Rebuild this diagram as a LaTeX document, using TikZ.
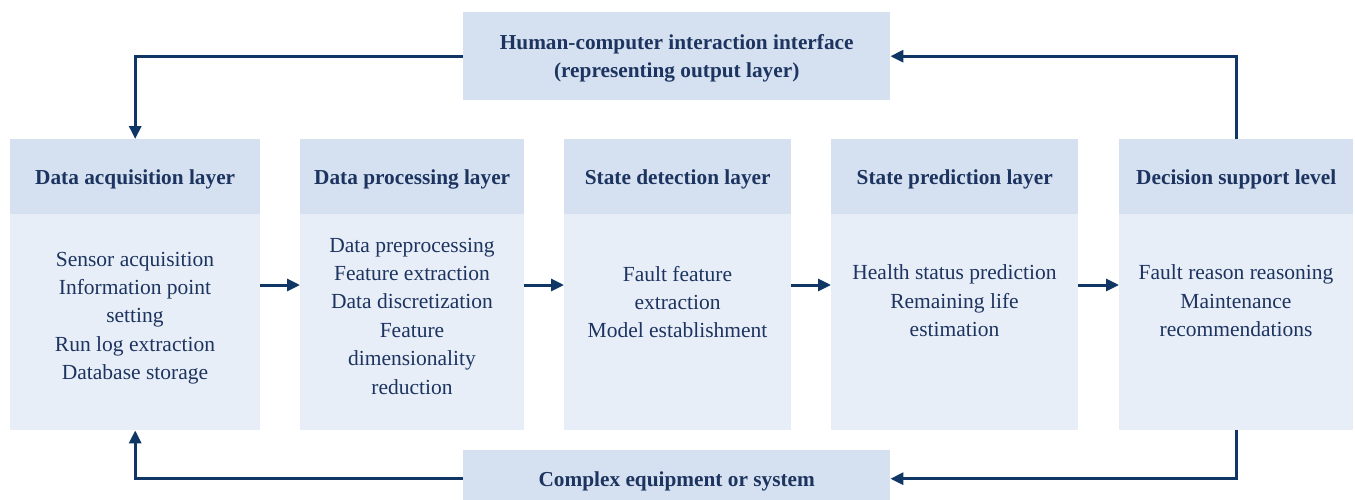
\documentclass[tikz,border=0pt]{standalone}
\usepackage{fontspec}
\setmainfont{Liberation Serif}
\usetikzlibrary{arrows.meta}
\definecolor{hdr}{RGB}{213,225,241}
\definecolor{bdy}{RGB}{232,238,248}
\definecolor{ink}{RGB}{28,52,95}
\definecolor{arrc}{RGB}{16,54,101}
\begin{document}
\begin{tikzpicture}[x=1pt,y=-1pt,
  hdrbox/.style={fill=hdr,draw=none,inner sep=0pt,anchor=north west,text=ink,align=center,
    text depth=-4pt,font=\fontsize{21.3}{28.4}\selectfont\bfseries},
  bdybox/.style={fill=bdy,draw=none,inner sep=0pt,anchor=north west},
  txt/.style={inner sep=0pt,align=center,text=ink,font=\fontsize{21.5}{28.4}\selectfont},
  conn/.style={draw=arrc,line width=3pt,-{Triangle[length=13pt,width=12pt]}}
]
\useasboundingbox (0,0) rectangle (1355,499);
% top and bottom boxes
\node[hdrbox,minimum width=427pt,minimum height=88pt] (top) at (463,12)
  {Human-computer interaction interface\\(representing output layer)};
\node[hdrbox,minimum width=427pt,minimum height=57pt] (bot) at (463,450)
  {Complex equipment or system};
% columns
\node[bdybox,minimum width=250pt,minimum height=216pt] (b1) at (10,214) {};
\node[bdybox,minimum width=224pt,minimum height=216pt] (b2) at (300,214) {};
\node[bdybox,minimum width=227pt,minimum height=216pt] (b3) at (564,214) {};
\node[bdybox,minimum width=247pt,minimum height=216pt] (b4) at (831,214) {};
\node[bdybox,minimum width=234pt,minimum height=216pt] (b5) at (1119,214) {};
\node[hdrbox,minimum width=250pt,minimum height=75pt] (h1) at (10,139) {Data acquisition layer};
\node[hdrbox,minimum width=224pt,minimum height=75pt] (h2) at (300,139) {Data processing layer};
\node[hdrbox,minimum width=227pt,minimum height=75pt] (h3) at (564,139) {State detection layer};
\node[hdrbox,minimum width=247pt,minimum height=75pt] (h4) at (831,139) {State prediction layer};
\node[hdrbox,minimum width=234pt,minimum height=75pt] (h5) at (1119,139) {Decision support level};
% body texts
\node[txt] (t1) at (135,318) {Sensor acquisition\\Information point\\setting\\Run log extraction\\Database storage};
\node[txt] (t2) at (412,316) {Data preprocessing\\Feature extraction\\Data discretization\\Feature\\dimensionality\\reduction};
\node[txt] (t3) at (677.5,302) {Fault feature\\extraction\\Model establishment};
\node[txt] (t4) at (954.5,301) {Health status prediction\\Remaining life\\estimation};
\node[txt] (t5) at (1236,301) {Fault reason reasoning\\Maintenance\\recommendations};
% connectors
\coordinate (ya) at (0,285);
\draw[conn] (b1.east |- ya) -- (b2.west |- ya);
\draw[conn] (b2.east |- ya) -- (b3.west |- ya);
\draw[conn] (b3.east |- ya) -- (b4.west |- ya);
\draw[conn] (b4.east |- ya) -- (b5.west |- ya);
\draw[conn] (top.west) -| (h1.north);
\draw[conn] (h5.north) |- (top.east);
\draw[conn] (b5.south) |- (bot.east);
\draw[conn] (bot.west) -| (b1.south);
\end{tikzpicture}
\end{document}
